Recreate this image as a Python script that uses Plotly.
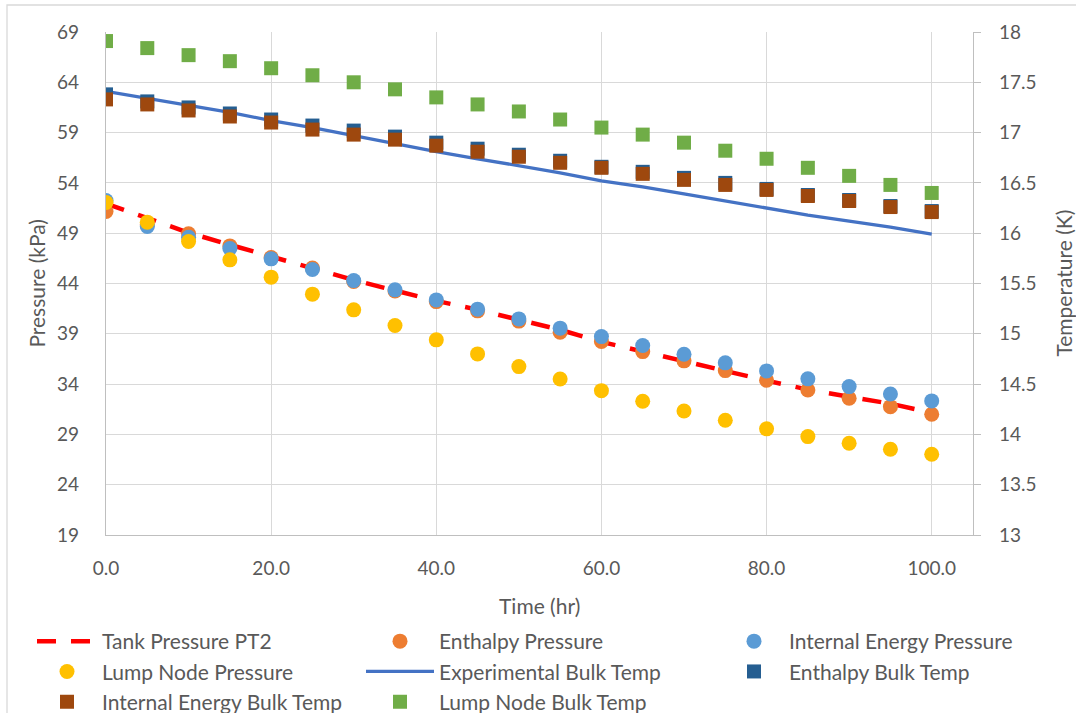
import plotly.graph_objects as go

# Time axis (hr)
time_hr = [0, 5, 10, 15, 20, 25, 30, 35, 40, 45, 50, 55, 60, 65, 70, 75, 80, 85, 90, 95, 100]

# Pressure series (kPa)
tank_pressure_pt2 = [51.95, 50.45, 49.05, 47.85, 46.68, 45.6, 44.35, 43.3, 42.27, 41.4, 40.38,
                     39.4, 38.2, 37.23, 36.24, 35.3, 34.35, 33.45, 32.8, 32.05, 31.15]
enthalpy_pressure = [51.16, 49.85, 48.94, 47.74, 46.58, 45.53, 44.2, 43.25, 42.2, 41.28, 40.26,
                     39.16, 38.23, 37.23, 36.31, 35.34, 34.38, 33.42, 32.6, 31.76, 31.0]
internal_energy_pressure = [52.25, 49.66, 48.6, 47.48, 46.45, 45.39, 44.29, 43.37, 42.37, 41.45, 40.48,
                            39.56, 38.72, 37.83, 36.97, 36.11, 35.31, 34.52, 33.75, 33.02, 32.33]
lump_node_pressure = [52.05, 50.1, 48.17, 46.35, 44.63, 42.94, 41.38, 39.82, 38.4, 37.0, 35.74,
                      34.5, 33.35, 32.3, 31.33, 30.41, 29.55, 28.78, 28.12, 27.52, 27.03]

# Temperature series (K)
experimental_bulk_temp = [17.41, 17.34, 17.27, 17.2, 17.12, 17.05, 16.97, 16.89, 16.81, 16.74, 16.67,
                          16.6, 16.52, 16.46, 16.39, 16.32, 16.25, 16.18, 16.12, 16.06, 15.99]
enthalpy_bulk_temp = [17.38, 17.31, 17.25, 17.19, 17.13, 17.07, 17.02, 16.96, 16.9, 16.84, 16.78,
                      16.72, 16.66, 16.61, 16.55, 16.5, 16.44, 16.38, 16.33, 16.27, 16.22]
internal_energy_bulk_temp = [17.33, 17.28, 17.22, 17.16, 17.1, 17.03, 16.98, 16.93, 16.87, 16.81, 16.76,
                             16.7, 16.65, 16.59, 16.53, 16.48, 16.43, 16.37, 16.32, 16.26, 16.21]
lump_node_bulk_temp = [17.91, 17.84, 17.77, 17.71, 17.64, 17.57, 17.5, 17.43, 17.35, 17.28, 17.21,
                       17.13, 17.05, 16.98, 16.9, 16.82, 16.74, 16.65, 16.57, 16.48, 16.4]

# Axis ticks
x_ticks = [0, 20, 40, 60, 80, 100]
x_tick_text = ["0.0", "20.0", "40.0", "60.0", "80.0", "100.0"]

FONT = "Lato"
TXT = "#595959"
GRID = "#D9D9D9"
AXLINE = "#BFBFBF"

W, H = 1076, 713
L, R, T, B = 106, 103, 32, 178

fig = go.Figure()

# The legend is laid out as three columns, each one its own legend box
fig.add_trace(go.Scatter(x=time_hr, y=tank_pressure_pt2, name="Tank Pressure PT2", mode="lines",
                         line=dict(color="#FF0000", width=4.5, dash="19px,15px"), legend="legend"))
fig.add_trace(go.Scatter(x=time_hr, y=enthalpy_pressure, name="Enthalpy Pressure", mode="markers",
                         marker=dict(color="#ED7D31", size=15, symbol="circle"), legend="legend2"))
fig.add_trace(go.Scatter(x=time_hr, y=internal_energy_pressure, name="Internal Energy Pressure", mode="markers",
                         marker=dict(color="#5B9BD5", size=15, symbol="circle"), legend="legend3"))
fig.add_trace(go.Scatter(x=time_hr, y=lump_node_pressure, name="Lump Node Pressure", mode="markers",
                         marker=dict(color="#FFC000", size=15, symbol="circle"), legend="legend"))
fig.add_trace(go.Scatter(x=time_hr, y=experimental_bulk_temp, name="Experimental Bulk Temp", mode="lines",
                         line=dict(color="#4472C4", width=3.3), yaxis="y2", legend="legend2"))
fig.add_trace(go.Scatter(x=time_hr, y=enthalpy_bulk_temp, name="Enthalpy Bulk Temp", mode="markers",
                         marker=dict(color="#255E91", size=14, symbol="square"), yaxis="y2", legend="legend3"))
fig.add_trace(go.Scatter(x=time_hr, y=internal_energy_bulk_temp, name="Internal Energy Bulk Temp", mode="markers",
                         marker=dict(color="#9E480E", size=14, symbol="square"), yaxis="y2", legend="legend"))
fig.add_trace(go.Scatter(x=time_hr, y=lump_node_bulk_temp, name="Lump Node Bulk Temp", mode="markers",
                         marker=dict(color="#70AD47", size=14, symbol="square"), yaxis="y2", legend="legend2"))

pw = W - L - R
ph = H - T - B


def px_x(px):
    return (px - L) / pw


def px_y(py):
    return (H - B - py) / ph


def legend_box(left_px, item_w):
    return dict(orientation="v", xref="container", yref="container", x=left_px / W, y=1 - 621.0 / H,
                xanchor="left", yanchor="top", font=dict(size=21, color=TXT), itemwidth=item_w,
                bgcolor="rgba(0,0,0,0)", tracegroupgap=0)


fig.update_layout(
    width=W, height=H,
    margin=dict(l=L, r=R, t=T, b=B, autoexpand=False),
    paper_bgcolor="white", plot_bgcolor="white",
    font=dict(family=FONT, color=TXT, size=19),
    showlegend=True,
    legend=legend_box(32, 60),
    legend2=legend_box(361, 68),
    legend3=legend_box(719, 60),
    xaxis=dict(range=[0, 105], tickvals=x_ticks, ticktext=x_tick_text, showgrid=True,
               gridcolor=GRID, gridwidth=1.3, showline=True, linecolor=AXLINE, linewidth=1.3,
               ticks="", ticklabelstandoff=16, zeroline=False),
    yaxis=dict(range=[19, 69], tick0=19, dtick=5, showgrid=True, gridcolor=GRID, gridwidth=1.3,
               showline=True, linecolor=AXLINE, linewidth=1.3, ticks="", ticklabelstandoff=22,
               zeroline=False),
    yaxis2=dict(range=[13, 18], tick0=13, dtick=0.5, overlaying="y", side="right", showgrid=False,
                showline=True, linecolor=AXLINE, linewidth=1.3, ticks="outside", ticklen=7,
                tickcolor=AXLINE, tickwidth=1.3, ticklabelstandoff=14, zeroline=False,
                tickformat="~r"),
)

# Axis titles
fig.add_annotation(text="Pressure (kPa)", xref="paper", yref="paper", x=px_x(37), y=px_y(283.6),
                   textangle=-90, showarrow=False, font=dict(size=21, color=TXT),
                   xanchor="center", yanchor="middle")
fig.add_annotation(text="Temperature (K)", xref="paper", yref="paper", x=px_x(1064), y=px_y(283.6),
                   textangle=-90, showarrow=False, font=dict(size=21, color=TXT),
                   xanchor="center", yanchor="middle")
fig.add_annotation(text="Time (hr)", xref="paper", yref="paper", x=px_x(539), y=px_y(605),
                   showarrow=False, font=dict(size=21, color=TXT),
                   xanchor="center", yanchor="middle")

# Chart-area frame
fig.add_shape(type="rect", xref="paper", yref="paper", x0=px_x(7), y0=px_y(740), x1=px_x(1090), y1=px_y(5),
              line=dict(color=GRID, width=1.3), fillcolor="rgba(0,0,0,0)", layer="below")

fig.write_html("out.html")
